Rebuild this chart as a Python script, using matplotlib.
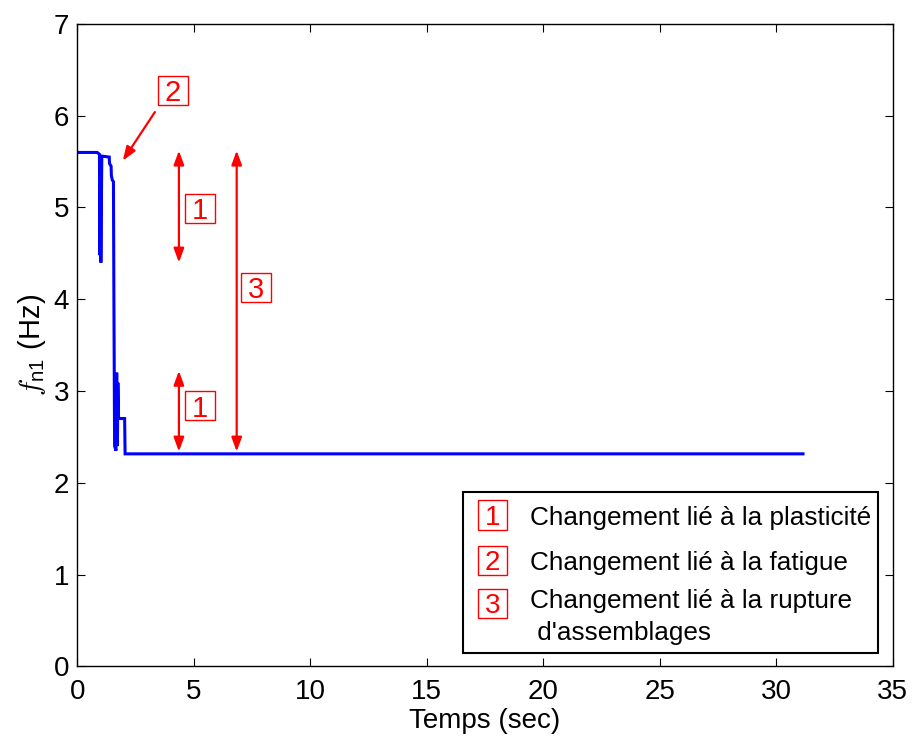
import matplotlib
matplotlib.use("Agg")
import matplotlib.pyplot as plt
from matplotlib.patches import Rectangle

plt.rcParams['font.family'] = ['Liberation Sans', 'DejaVu Sans']
plt.rcParams['mathtext.fontset'] = 'cm'

# Data: frequency f_n1 over time
time_s = [0.0, 0.85, 0.95, 0.97, 0.99, 1.01, 1.05, 1.37, 1.38, 1.45, 1.46, 1.50, 1.55,
          1.57, 1.60, 1.66, 1.69, 1.72, 1.74, 1.77, 1.79, 2.03, 2.05, 31.15]
freq_hz = [5.60, 5.60, 5.58, 4.48, 5.50, 4.40, 5.56, 5.55, 5.48, 5.45, 5.35, 5.30, 5.28,
           4.00, 2.40, 2.35, 3.20, 2.40, 3.09, 2.70, 2.70, 2.70, 2.315, 2.315]

x_ticks = [0, 5, 10, 15, 20, 25, 30, 35]
y_ticks = [0, 1, 2, 3, 4, 5, 6, 7]

# Annotation arrows (x, y_top, y_bottom) and boxed labels
double_arrows = [(4.36, 5.62, 4.40), (4.36, 3.22, 2.34), (6.84, 5.62, 2.34)]
box_labels = [("1", 5.27, 4.99), ("1", 5.27, 2.84), ("3", 7.66, 4.13), ("2", 4.09, 6.28)]
arrow2_from = (3.33, 6.04)
arrow2_to = (1.95, 5.51)

legend_nums = ["1", "2", "3"]
legend_texts = ["Changement lié à la plasticité",
                "Changement lié à la fatigue",
                "Changement lié à la rupture",
                " d'assemblages"]

fig = plt.figure(figsize=(9.13, 7.38), dpi=100)
ax = fig.add_axes([0.0847, 0.0972, 0.8931, 0.8703])

ax.plot(time_s, freq_hz, color=(0, 0, 1), lw=2.2, solid_joinstyle='miter')

ax.set_xlim(0, 35)
ax.set_ylim(0, 7)
ax.set_xticks(x_ticks)
ax.set_yticks(y_ticks)
ax.tick_params(direction='in', length=6, width=0.8, top=True, right=True,
               labelsize=20, pad=6)
ax.tick_params(axis='x', pad=9)
for s in ax.spines.values():
    s.set_linewidth(1.0)

ax.set_xlabel("Temps (sec)", fontsize=20, labelpad=2)
ax.set_ylabel(r"$f_{\mathregular{n1}}$ (Hz)", fontsize=21, labelpad=4)

red = (1, 0, 0)
astyle2 = '<|-|>,head_width=0.22,head_length=0.6'
for x, yt, yb in double_arrows:
    ax.annotate("", xy=(x, yt), xytext=(x, yb),
                arrowprops=dict(arrowstyle=astyle2, color=red, lw=1.6,
                                mutation_scale=14, shrinkA=0, shrinkB=0))
ax.annotate("", xy=arrow2_to, xytext=arrow2_from,
            arrowprops=dict(arrowstyle='-|>,head_width=0.22,head_length=0.6',
                            color=red, lw=1.6, mutation_scale=14,
                            shrinkA=0, shrinkB=0))

bw, bh = 30 / 23.3, 29 / 91.7
for lab, x, y in box_labels:
    ax.add_patch(Rectangle((x - bw / 2, y - bh / 2), bw, bh, fc='white',
                           ec=red, lw=1.0, zorder=3))
    ax.text(x, y, lab, color=red, fontsize=21, ha='center', va='center_baseline',
            zorder=4)

# Legend-like box
ax.add_patch(Rectangle((0.473, 0.0207), 0.509, 0.2503, transform=ax.transAxes,
                       fill=True, fc='white', ec='black', lw=1.5, zorder=5))
num_y = [0.2355, 0.165, 0.098]
lbw, lbh = 29 / 815.4, 29.3 / 642.3
for n, yy in zip(legend_nums, num_y):
    ax.add_patch(Rectangle((0.509 - lbw / 2, yy - lbh / 2), lbw, lbh,
                           transform=ax.transAxes, fc='white', ec=red, lw=1.0,
                           zorder=6))
    ax.text(0.509, yy, n, color=red, fontsize=20, ha='center',
            va='center_baseline', transform=ax.transAxes, zorder=7)
text_y = [0.2355, 0.165, 0.106, 0.055]
for t, yy in zip(legend_texts, text_y):
    ax.text(0.555, yy, t, fontsize=18.8, ha='left', va='center_baseline',
            transform=ax.transAxes, zorder=6)

fig.savefig("out.png", dpi=100)
